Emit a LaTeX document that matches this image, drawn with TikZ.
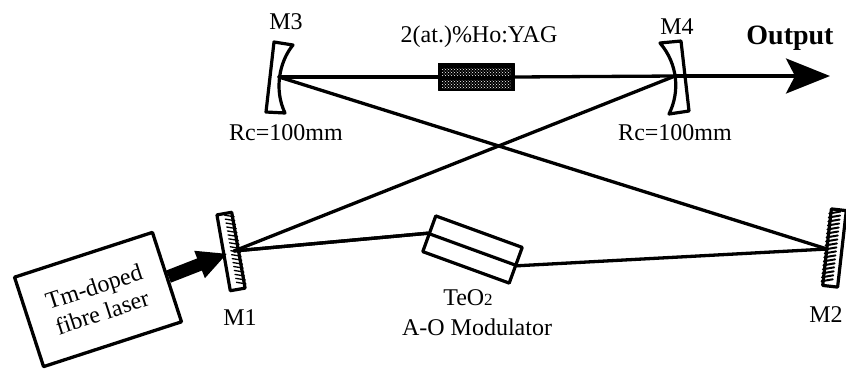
\documentclass[tikz,border=0pt]{standalone}
\usepackage{fontspec}
\setmainfont{Liberation Serif}
\usetikzlibrary{arrows,arrows.meta,calc,patterns}
\tikzset{
  beam/.style={line width=3.3pt},
  lab/.style={inner sep=0pt,font=\fontsize{24}{27}\selectfont},
  mirror/.style={draw,line width=3.2pt,fill=white,inner sep=0pt,minimum width=15pt,minimum height=77pt},
  curved/.style={line width=3.2pt,fill=white,line join=round},
}
\begin{document}
\begin{tikzpicture}[line cap=round,line join=round,x=1pt,y=-1pt]
\useasboundingbox (0,0) rectangle (846,368);

% end points of the beams
\coordinate (c3) at (279,77);
\coordinate (c4) at (675,76);
\coordinate (tip) at (830,76);
\coordinate (h1) at (234,251);
\coordinate (h2) at (827,249);

% curved mirrors
\draw [curved] (274,42)-- (293,45) .. controls (279,62) and (274,90) .. (285,113)-- (266,112)-- cycle;
\draw [curved] (660,43)-- (681,41)-- (689,111)-- (669,114) .. controls (680,92) and (678,64) .. (660,43)-- cycle;

% crystal and modulator
\node (yag) [draw,line width=1pt,fill=black,inner sep=0pt,minimum width=76pt,minimum height=27pt] at (476.5,77) {};
\node (aom) [draw,line width=3.2pt,fill=white,inner sep=0pt,minimum width=92pt,minimum height=38pt,rotate=-20] at (472.5,249.5) {};

\draw [beam] (c3)-- (yag.west);
\draw [beam] (yag.east)-- (c4);
\draw [beam,-{Stealth[length=44pt,width=35pt,inset=9pt]}] (c4)-- (tip);
\draw [beam] (c3)-- (h2);
\draw [beam] (h1)-- (aom.west);
\draw [beam] (aom.east)-- (h2);
\draw [line width=3.2pt] (aom.west)-- (aom.east);

% stripes inside the crystal
\fill [pattern=crosshatch dots,pattern color=white] (442,68) rectangle (511,75);
\fill [pattern=crosshatch dots,pattern color=white] (442,80) rectangle (511,88);

% plane mirrors
\node (m1) [mirror,rotate=10] at (231,251.5) {};
\node (m2) [mirror,rotate=-6.5] at (834.5,248) {};
\coordinate (m1n) at ($(m1.north west)!0.5!(m1.north east)$);
\coordinate (m1s) at ($(m1.south west)!0.5!(m1.south east)$);
\coordinate (m2n) at ($(m2.north west)!0.6!(m2.north east)$);
\coordinate (m2s) at ($(m2.south west)!0.6!(m2.south east)$);
\foreach \t in {0.04,0.09,...,0.92} {
  \draw [line width=1.3pt] ($(m1.north east)!\t+0.04!(m1.south east)$)-- ($(m1n)!\t!(m1s)$);
  \draw [line width=2pt] ($(m2.north west)!\t+0.04!(m2.south west)$)-- ($(m2n)!\t!(m2s)$);
}
\draw [beam] (c4)-- (h1);
\draw [beam] (h1)-- (aom.west);

% laser
\node (laser) [draw,line width=3.3pt,fill=white,align=center,inner sep=0pt,minimum width=145pt,minimum height=94pt,rotate=18,font=\fontsize{24}{27}\selectfont] at (98,299.5) {Tm-doped\\fibre laser};
\draw [-{Triangle[length=30pt,width=27pt]},line width=13pt,line cap=butt,shorten >=7pt] (laser.east)-- (h1);

% labels
\node (l3) [lab] at (286,22) {M3};
\node (l4) [lab] at (677,27) {M4};
\node (lo) [lab,font=\fontsize{28}{30}\selectfont\bfseries] at (790,38) {Output};
\node (lyag) [lab] at (479,37) {2(at.)\%Ho:YAG};
\node (r3) [lab] at (286,133) {Rc=100mm};
\node (r4) [lab] at (675,133) {Rc=100mm};
\node (l1) [lab] at (240,318) {M1};
\node (l2) [lab] at (826,315) {M2};
\node (teo) [lab] at (468,298) {TeO{\fontsize{17}{19}\selectfont 2}};
\node (mod) [lab] at (477,327) {A-O Modulator};
\end{tikzpicture}
\end{document}
